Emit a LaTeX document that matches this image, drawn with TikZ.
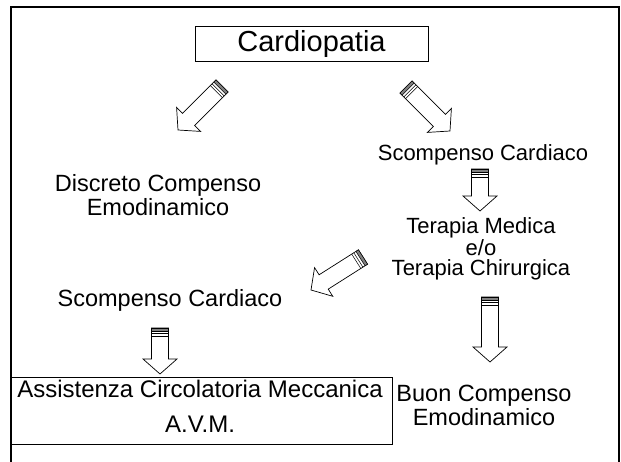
\documentclass[tikz,border=0pt]{standalone}
\usepackage{fontspec}
\setmainfont{Liberation Sans}
\usetikzlibrary{calc}
\tikzset{
  txt/.style={align=center,inner sep=0pt,font=\fontsize{21}{24}\selectfont},
  boxed/.style={draw,line width=0.8pt},
  hollow/.style={draw,line width=0.7pt,fill=white,line join=miter},
}
\newcommand\arrw{8.5pt}
\newcommand\arrW{17pt}
\newcommand\arrh{15pt}
% hollow block arrow from tail #1 to tip #2
\newcommand\blockarrow[2]{%
  \coordinate (ba) at ($(#2)!\arrh!(#1)$);
  \coordinate (bs) at ($(#1)!3pt!(#2)$);
  \coordinate (bm) at ($(#1)!5.5pt!(#2)$);
  \coordinate (bt) at ($(#1)!8pt!(#2)$);
  \draw[hollow] ($(#1)!\arrw!90:(#2)$) -- ($(ba)!\arrw!90:(#2)$) -- ($(ba)!\arrW!90:(#2)$)
    -- (#2) -- ($(ba)!\arrW!-90:(#2)$) -- ($(ba)!\arrw!-90:(#2)$) -- ($(#1)!\arrw!-90:(#2)$) -- cycle;
  \filldraw[fill=gray,line width=0.5pt] ($(#1)!\arrw!90:(#2)$) -- ($(bs)!\arrw!90:(#2)$)
    -- ($(bs)!\arrw!-90:(#2)$) -- ($(#1)!\arrw!-90:(#2)$) -- cycle;
  \draw[line width=0.5pt] ($(bm)!\arrw!90:(#2)$) -- ($(bm)!\arrw!-90:(#2)$);
  \draw[line width=0.5pt] ($(bt)!\arrw!90:(#2)$) -- ($(bt)!\arrw!-90:(#2)$);
}
\begin{document}
\begin{tikzpicture}[x=1pt,y=-1pt]
  \useasboundingbox[fill=white] (0,0) rectangle (621,462);
  \draw[line width=1.6pt] (11,470) -- (11,7) -- (619,7) -- (619,470);

  \node[boxed,minimum width=233pt,minimum height=35pt,txt,font=\fontsize{29}{30}\selectfont] (card) at (311.5,44) {Cardiopatia};
  \node[txt,font=\fontsize{22}{24}\selectfont] (scR) at (483,155) {Scompenso Cardiaco};
  \node[txt,font=\fontsize{23.5}{24}\selectfont] (disc) at (158,195) {Discreto Compenso\\Emodinamico};
  \node[txt,font=\fontsize{22}{20.5}\selectfont] (ter) at (481,249) {Terapia Medica\\e/o\\Terapia Chirurgica};
  \node[txt,font=\fontsize{23.5}{24}\selectfont] (scL) at (170,300) {Scompenso Cardiaco};
  \node[boxed,minimum width=381pt,minimum height=67pt,txt,font=\fontsize{24}{35}\selectfont] (avm) at (201.5,410.5) {};
  \node[txt,font=\fontsize{24}{35}\selectfont] (avmtxt) at (200,406.5) {Assistenza Circolatoria Meccanica\\A.V.M.};
  \node[txt,font=\fontsize{23.5}{24}\selectfont] (buon) at (484,405) {Buon Compenso\\Emodinamico};

  \coordinate (a1t) at (222,86);  \coordinate (a1h) at (178,130);
  \coordinate (a2t) at (406,87);  \coordinate (a2h) at (450,131);
  \coordinate (a3t) at (480,169); \coordinate (a3h) at (480,211);
  \coordinate (a4t) at (363,257); \coordinate (a4h) at (311,290);
  \coordinate (a5t) at (490,297); \coordinate (a5h) at (490,362);
  \coordinate (a6t) at (160,328); \coordinate (a6h) at (160,374);
  \blockarrow{a1t}{a1h}
  \blockarrow{a2t}{a2h}
  \blockarrow{a3t}{a3h}
  \blockarrow{a4t}{a4h}
  \blockarrow{a5t}{a5h}
  \blockarrow{a6t}{a6h}
\end{tikzpicture}
\end{document}
